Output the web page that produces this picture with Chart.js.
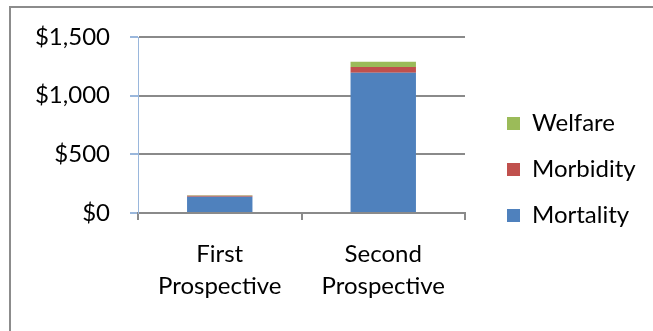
<!DOCTYPE html>
<html>
<head>
<meta charset="utf-8">
<script src="https://cdn.jsdelivr.net/npm/chart.js@4/dist/chart.umd.min.js"></script>
<style>
  html, body { margin: 0; padding: 0; background: #fff; overflow: hidden; }
  #wrap { position: relative; width: 653px; height: 331px; }
  #frame { position: absolute; left: 9px; top: 6px; width: 800px; height: 500px;
           border-left: 2px solid #8c8c8c; border-top: 2px solid #8c8c8c; }
  canvas { position: absolute; left: 0; top: 0; }
</style>
</head>
<body>
<div id="wrap">
  <div id="frame"></div>
  <canvas id="c" width="653" height="331"></canvas>
</div>
<script>
// Cost categories and stacked components
const categories = [['First', 'Prospective'], ['Second', 'Prospective']];
const mortality = [139, 1196];
const morbidity = [9, 49];
const welfare = [4, 43];
const yTickLabels = ['$0', '$500', '$1,000', '$1,500'];

const FONT = { family: 'Lato, "Liberation Sans", sans-serif', size: 24 };
const GRID = '#8a8a8a';

// Nudge the legend column to the right of the plot
const legendShift = {
  id: 'legendShift',
  afterLayout(chart) {
    const lg = chart.legend;
    if (lg) { lg.left += 20; lg.right += 20; }
  }
};

new Chart(document.getElementById('c'), {
  type: 'bar',
  data: {
    labels: categories,
    datasets: [
      { label: 'Mortality', data: mortality, backgroundColor: '#4f81bd' },
      { label: 'Morbidity', data: morbidity, backgroundColor: '#c0504d' },
      { label: 'Welfare', data: welfare, backgroundColor: '#9bbb59' }
    ]
  },
  options: {
    responsive: false,
    animation: false,
    devicePixelRatio: 1,
    layout: { padding: { top: 37, right: 33, bottom: 29, left: 0 } },
    datasets: { bar: { barPercentage: 0.4, categoryPercentage: 1 } },
    plugins: {
      tooltip: { enabled: false },
      legend: {
        position: 'right',
        reverse: true,
        labels: {
          font: FONT,
          color: '#000',
          boxWidth: 13,
          boxHeight: 13,
          padding: 22
        }
      }
    },
    scales: {
      x: {
        stacked: true,
        afterFit: (s) => { s.height = 89; },
        grid: { drawOnChartArea: false, drawTicks: true, tickLength: 7, color: GRID, lineWidth: 2 },
        border: { color: GRID, width: 2 },
        ticks: { font: Object.assign({ lineHeight: 32 / 24 }, FONT), color: '#000', padding: 18, maxRotation: 0 }
      },
      y: {
        stacked: true,
        min: 0,
        max: 1500,
        afterFit: (s) => { s.width = 138; },
        grid: { color: GRID, lineWidth: 2, tickLength: 8, tickColor: '#9ab7dc' },
        border: { color: '#9ab7dc', width: 1 },
        ticks: {
          stepSize: 500,
          padding: 20,
          font: FONT,
          color: '#000',
          callback: (v, i) => yTickLabels[i]
        }
      }
    }
  },
  plugins: [legendShift]
});
</script>
</body>
</html>
